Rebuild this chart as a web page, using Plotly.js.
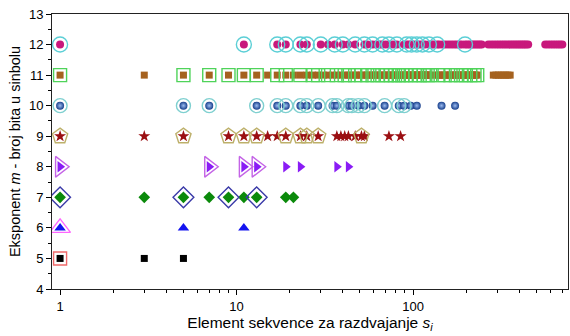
<!DOCTYPE html>
<html><head><meta charset="utf-8">
<script src="https://cdn.plot.ly/plotly-3.0.1.min.js"></script>
<style>html,body{margin:0;padding:0;background:#fff}#c{width:570px;height:336px}</style>
</head><body><div id="c"></div>
<script>
// values of s_i for each exponent m (all elements) and the highlighted (outlined) ones
const m5  = [1,3,5];
const m5o = [1];
const m6  = [1,5,11];
const m6o = [1];
const m7  = [1,3,5,7,9,11,13,19,21];
const m7o = [1,5,9,13];
const m8  = [1,7,11,13,19,23,37,43];
const m8o = [1,7,11,13];
const m9  = [1,3,5,9,11,13,15,17,19,23,25,29,37,39,41,43,47,51,53,73,85];
const m9o = [1,5,9,11,13,19,23,25,29,51];
const m10  = [1,5,7,13,17,19,23,25,29,35,37,43,45,49,53,59,69,83,89,97,105,145,173];
const m10o = [1,5,7,13,17,19,23,25,29,35,37,43,45,49,53,69,83,89];
const m11  = [1,3,5,7,9,11,13,15,17,19,21,23,25,27,29,31,33,35,37,39,41,43,45,47,49,51,53,55,57,59,61,63,65,67,69,71,73,75,77,79,81,83,85,87,89,91,93,95,97,99,101,103,105,107,109,111,113,115,117,119,121,123,125,135,139,143,147,151,155,159,163,167,171,175,179,183,187,191,195,199,203,207,211,215,219,223,227,231,285,295,305,315,325,335,345,355];
const m11o = [1,5,7,9,11,13,17,19,23,27,29,33,37,41,43,47,51,55,59,63,67,71,75,79,83,87,91,97,103,109,115,121,125,139,151,163,175,187,199,211,223,231];
const m12  = [1,11,17,19,23,25,30,33,36,40,43,47,53,55,59,62,65,67,70,73,77,81,89,92,95,98,101,105,109,113,117,123,127,131,137,141,147,153,159,165,171,177,183,189,197,203,209,215,221,227,233,239,245,267,277,287,297,307,317,327,337,347,357,367,377,387,397,407,417,427,437,449,561,581,601,621,641,661,681,701];
const m12o = [1,11,17,19,23,25,30,36,40,47,53,59,67,73,81,92,98,105,113,123,137,197];

const exps = [5,6,7,8,9,10,11,12];
const allSets = [m5,m6,m7,m8,m9,m10,m11,m12];
const outSets = [m5o,m6o,m7o,m8o,m9o,m10o,m11o,m12o];

const fillStyle = [
  {symbol:'square', color:'#000000', size:7},
  {symbol:'triangle-up', color:'#1414f0', size:10},
  {symbol:'diamond', color:'#0b8a0b', size:9},
  {symbol:'triangle-right', color:'#8a1cf5', size:10},
  {symbol:'star', color:'#9b0f12', size:9},
  {symbol:'circle', color:'#173f8c', size:8, gradient:{type:'radial', color:'#9dbcf0'}},
  {symbol:'square', color:'#a5621f', size:7},
  {symbol:'circle', color:'#c8187c', size:8}
];
const outStyle = [
  {symbol:'square-open', color:'#f06a6a', size:13},
  {symbol:'triangle-up-open', color:'#ff66ff', size:18},
  {symbol:'diamond-open', color:'#3a3aa8', size:16},
  {symbol:'triangle-right-open', color:'#c464e6', size:18},
  {symbol:'pentagon-open', color:'#bdb06a', size:16},
  {symbol:'circle-open', color:'#7fd0d0', size:14},
  {symbol:'square-open', color:'#4fd35a', size:13},
  {symbol:'circle-open', color:'#5ccfd6', size:15}
];

const traces = [];
exps.forEach((m,i)=>{
  const s = fillStyle[i];
  const mk = {symbol:s.symbol, color:s.color, size:s.size, line:{width:0}};
  if (s.gradient) mk.gradient = s.gradient;
  traces.push({x:allSets[i], y:allSets[i].map(()=>m), type:'scatter', mode:'markers', marker:mk, hoverinfo:'skip'});
});
exps.forEach((m,i)=>{
  const s = outStyle[i];
  traces.push({x:outSets[i], y:outSets[i].map(()=>m), type:'scatter', mode:'markers',
    marker:{symbol:s.symbol, size:s.size, color:s.color, line:{color:s.color, width:1.4}}, hoverinfo:'skip'});
});

const font = {family:'"Liberation Sans", Arial, sans-serif', color:'#000'};
const layout = {
  width:570, height:336,
  margin:{l:52, r:2, t:14, b:47},
  showlegend:false,
  paper_bgcolor:'#fff', plot_bgcolor:'#fff',
  font:Object.assign({size:12}, font),
  xaxis:{
    type:'log', range:[Math.log10(0.9), Math.log10(755)],
    tickvals:[1,10,100], ticktext:['1','10','100'],
    ticks:'outside', ticklen:5, tickwidth:1, tickcolor:'#000',
    minor:{tickvals:[2,3,4,5,6,7,8,9,20,30,40,50,60,70,80,90,200,300,400,500,600,700], ticks:'outside', ticklen:3, tickcolor:'#000'},
    showgrid:false, zeroline:false,
    showline:true, linecolor:'#222', linewidth:1, mirror:true,
    tickfont:Object.assign({size:13}, font),
    title:{text:'Element sekvence za razdvajanje <i>s</i><sub><i>i</i></sub>', font:Object.assign({size:15.5}, font), standoff:3}
  },
  yaxis:{
    range:[4,13], dtick:1,
    ticks:'outside', ticklen:5, tickwidth:1, tickcolor:'#000',
    minor:{dtick:0.5, ticks:'outside', ticklen:3, tickcolor:'#000'},
    showgrid:false, zeroline:false,
    showline:true, linecolor:'#222', linewidth:1, mirror:true,
    tickfont:Object.assign({size:13}, font),
    title:{text:'Eksponent <i>m</i> - broj bita u sinbolu', font:Object.assign({size:14.5}, font), standoff:4}
  }
};
Plotly.newPlot('c', traces, layout, {staticPlot:true, displayModeBar:false});
</script></body></html>
